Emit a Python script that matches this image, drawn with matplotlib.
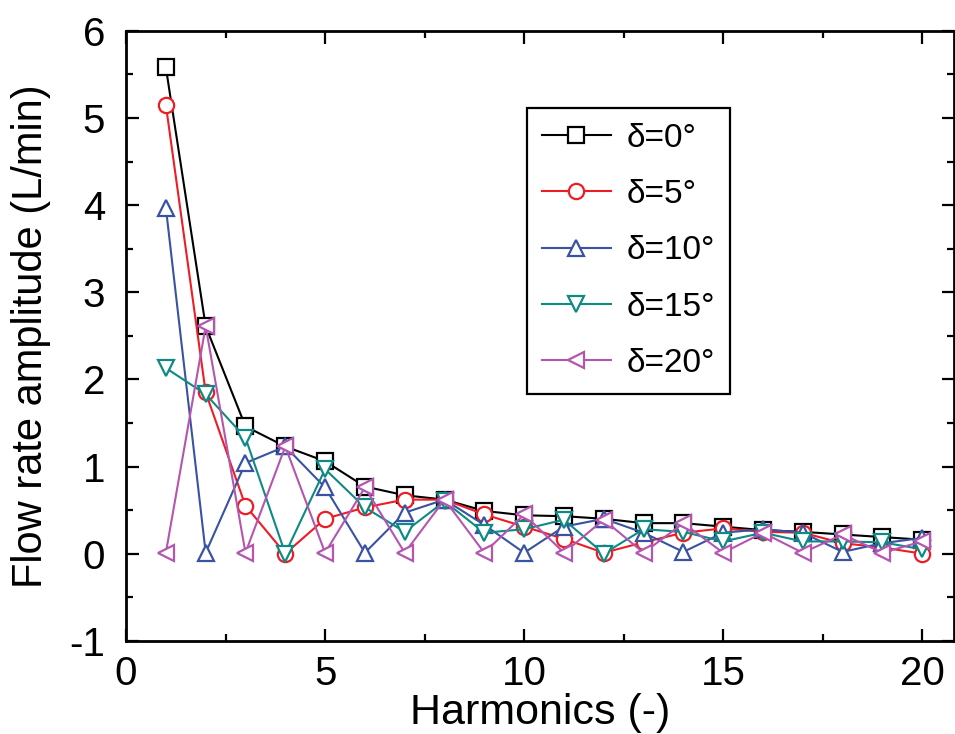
import numpy as np
import matplotlib
matplotlib.use('Agg')
import matplotlib.pyplot as plt
from matplotlib.ticker import MultipleLocator

# harmonics and amplitudes (L/min)
harmonics = np.arange(1, 21)
amp_d0 = [5.58, 2.61, 1.46, 1.23, 1.06, 0.77, 0.67, 0.62, 0.49, 0.44,
          0.43, 0.40, 0.35, 0.35, 0.31, 0.27, 0.25, 0.22, 0.19, 0.16]
amp_d5 = [5.15, 1.85, 0.55, 0.00, 0.40, 0.53, 0.62, 0.62, 0.45, 0.31,
          0.17, 0.01, 0.13, 0.24, 0.29, 0.25, 0.24, 0.12, 0.07, 0.00]
amp_d10 = [3.97, 0.01, 1.04, 1.23, 0.76, 0.01, 0.47, 0.62, 0.33, 0.01,
           0.31, 0.40, 0.24, 0.02, 0.24, 0.28, 0.24, 0.02, 0.12, 0.18]
amp_d15 = [2.13, 1.83, 1.33, 0.00, 0.97, 0.53, 0.25, 0.60, 0.24, 0.28,
           0.39, 0.00, 0.28, 0.25, 0.14, 0.24, 0.14, 0.14, 0.13, 0.05]
amp_d20 = [0.01, 2.61, 0.01, 1.23, 0.01, 0.76, 0.01, 0.62, 0.01, 0.45,
           0.01, 0.39, 0.01, 0.35, 0.01, 0.24, 0.01, 0.22, 0.01, 0.14]
labels = ['δ=0°', 'δ=5°', 'δ=10°', 'δ=15°', 'δ=20°']

colors = ['#000000', '#ee1c24', '#3953a4', '#0e8a84', '#b455b0']
markers = ['s', 'o', '^', 'v', '<']

plt.rcParams['font.family'] = ['Liberation Sans', 'DejaVu Sans']
plt.rcParams['axes.unicode_minus'] = False

fig = plt.figure(figsize=(9.55, 7.34), dpi=100)
ax = fig.add_axes([0.132, 0.127, 0.867, 0.831])

series = [amp_d0, amp_d5, amp_d10, amp_d15, amp_d20]
for vals, c, m, lab in zip(series, colors, markers, labels):
    ax.plot(harmonics, vals, color=c, marker=m, markersize=11,
            markerfacecolor='white', markeredgecolor=c, markeredgewidth=1.6,
            linewidth=1.5, label=lab)

ax.set_xlim(0, 20.8)
ax.set_ylim(-1, 6)
ax.xaxis.set_major_locator(MultipleLocator(5))
ax.xaxis.set_minor_locator(MultipleLocator(2.5))
ax.yaxis.set_major_locator(MultipleLocator(1))
ax.yaxis.set_minor_locator(MultipleLocator(0.5))
ax.tick_params(which='both', direction='in', top=True, right=True, width=1.6)
ax.tick_params(which='major', length=9, labelsize=29)
ax.tick_params(which='minor', length=5)
ax.tick_params(axis='x', which='major', pad=10)
ax.tick_params(axis='y', which='major', pad=15)
for s in ax.spines.values():
    s.set_linewidth(2)

ax.set_xlabel('Harmonics (-)', fontsize=31, labelpad=0)
ax.set_ylabel('Flow rate amplitude (L/min)', fontsize=30, labelpad=13)

leg = ax.legend(loc='upper left', bbox_to_anchor=(0.484, 0.874), borderaxespad=0,
                fontsize=24, frameon=True, fancybox=False, edgecolor='black',
                framealpha=1, handlelength=2.07, handletextpad=0.48,
                labelspacing=0.76, borderpad=0.45)
leg.get_frame().set_linewidth(1.6)

fig.savefig('out.png', dpi=100)
